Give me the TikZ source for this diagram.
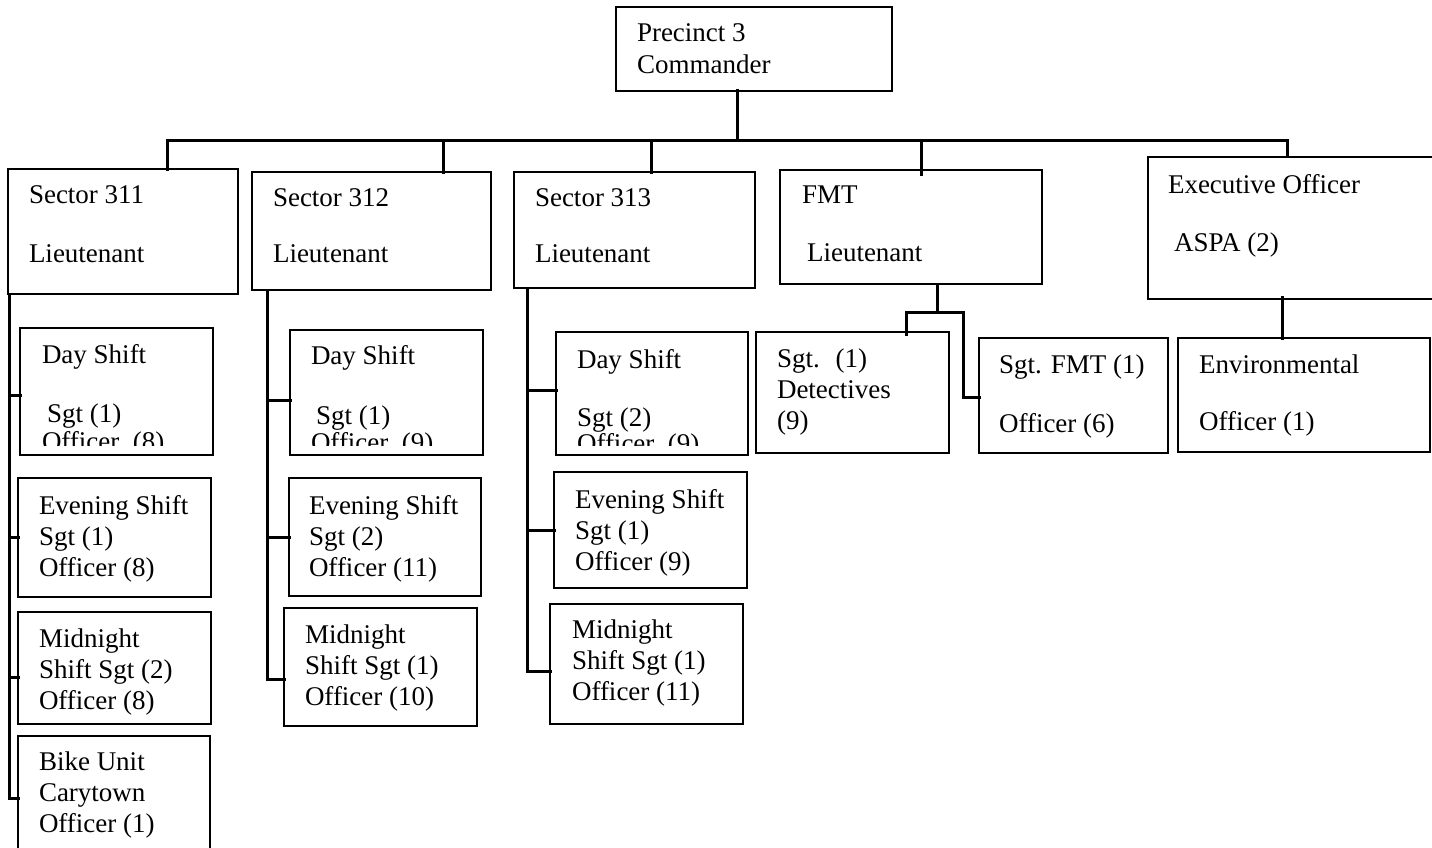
\documentclass[tikz,border=0pt]{standalone}
\usepackage{fontspec}
\setmainfont{Liberation Serif}
\begin{document}
\begin{tikzpicture}[x=1pt,y=-1pt,
  box/.style={draw,line width=1.3pt,inner sep=0pt,outer sep=0pt,anchor=north west},
  txt/.style={inner sep=0pt,outer sep=0pt,anchor=north west,align=left,
    font=\fontsize{27}{31}\selectfont,execute at begin node={\rule{0pt}{22pt}}},
  conn/.style={line width=3pt,line cap=rect,line join=miter}]
\useasboundingbox (0,0) rectangle (1432,848);
\clip (0,0) rectangle (1432,848);

% \unitbox{name}{x1}{y1}{x2}{y2}
\newcommand\unitbox[5]{\node[box,minimum width=#4pt-#2pt,minimum height=#5pt-#3pt] (#1) at (#2,#3) {};}
% \unittext{name}{x}{first baseline}{lines}
\newcommand\unittext[4]{\node[txt] (#1) at (#2,#3-18) {#4};}

% boxes
\unitbox{prec}{616}{7}{892}{91}
\unitbox{s311}{8}{169}{238}{294}
\unitbox{s312}{252}{172}{491}{290}
\unitbox{s313}{514}{172}{755}{288}
\unitbox{fmt}{780}{170}{1042}{284}
\unitbox{exec}{1148}{157}{1450}{299}
\unitbox{d311}{20}{328}{213}{455}
\unitbox{e311}{18}{478}{211}{597}
\unitbox{m311}{18}{612}{211}{724}
\unitbox{b311}{18}{736}{210}{860}
\unitbox{d312}{290}{330}{483}{455}
\unitbox{e312}{289}{478}{481}{596}
\unitbox{m312}{284}{608}{477}{726}
\unitbox{d313}{556}{332}{748}{455}
\unitbox{e313}{554}{472}{747}{588}
\unitbox{m313}{550}{604}{743}{724}
\unitbox{det}{756}{332}{949}{453}
\unitbox{sfmt}{979}{338}{1168}{453}
\unitbox{env}{1178}{338}{1430}{452}

% texts
\node[txt,font=\fontsize{27}{32}\selectfont] (prec-t) at (637,42-18) {Precinct 3\\Commander};
\unittext{s311-t}{29}{204}{Sector 311\\[28pt]Lieutenant}
\unittext{s312-t}{273}{207}{Sector 312\\[25pt]Lieutenant}
\unittext{s313-t}{535}{207}{Sector 313\\[25pt]Lieutenant}
\unittext{fmt-t}{802}{204}{FMT\\[27pt]\hspace{5pt}Lieutenant}
\unittext{exec-t}{1168}{192}{Executive Officer\\[27pt]\hspace{6pt}ASPA (2)}
\begin{scope}
  \clip (d311.north west) rectangle (d311.east |- 0,445);
  \unittext{d311-t}{42}{362}{Day Shift\\[28pt]\hspace{5pt}Sgt (1)\\[-3pt]Officer~ (8)}
\end{scope}
\begin{scope}
  \clip (d312.north west) rectangle (d312.east |- 0,445);
  \unittext{d312-t}{311}{363}{Day Shift\\[29pt]\hspace{5pt}Sgt (1)\\[-4pt]Officer~ (9)}
\end{scope}
\begin{scope}
  \clip (d313.north west) rectangle (d313.east |- 0,445);
  \unittext{d313-t}{577}{367}{Day Shift\\[27pt]Sgt (2)\\[-5pt]Officer~ (9)}
\end{scope}
\unittext{e311-t}{39}{513}{Evening Shift\\Sgt (1)\\Officer (8)}
\unittext{m311-t}{39}{647}{Midnight\\Shift Sgt (2)\\Officer (8)}
\unittext{b311-t}{39}{770}{Bike Unit\\Carytown\\Officer (1)}
\unittext{e312-t}{309}{513}{Evening Shift\\Sgt (2)\\Officer (11)}
\unittext{m312-t}{305}{643}{Midnight\\Shift Sgt (1)\\Officer (10)}
\unittext{e313-t}{575}{507}{Evening Shift\\Sgt (1)\\Officer (9)}
\unittext{m313-t}{572}{638}{Midnight\\Shift Sgt (1)\\Officer (11)}
\unittext{det-t}{777}{367}{Sgt.~ (1)\\Detectives\\(9)}
\unittext{sfmt-t}{999}{373}{Sgt. FMT (1)\\[28pt]Officer (6)}
\unittext{env-t}{1199}{373}{Environmental\\[26pt]Officer (1)}

% top level bar
\coordinate (j311) at (167,141);
\coordinate (j312) at (443,141);
\coordinate (j313) at (651,141);
\coordinate (jfmt) at (921,141);
\coordinate (jexec) at (1287,141);
\draw[conn] (prec.south -| 737,0) -- (737,141);
\draw[conn] (j311) -- (jexec);
\draw[conn] (j311) -- (j311 |- s311.north);
\draw[conn] (j312) -- (j312 |- s312.north);
\draw[conn] (j313) -- (j313 |- s313.north);
\draw[conn] (jfmt) -- (921,174);
\draw[conn] (jexec) -- (1287,154);

% sector 311
\coordinate (v311) at (9,294);
\draw[conn] (v311) |- (b311.west);
\draw[conn] (9,395) -- (d311.west |- 0,395);
\draw[conn] (9,537) -- (e311.west |- 0,537);
\draw[conn] (9,677) -- (m311.west |- 0,677);

% sector 312
\coordinate (v312) at (267,290);
\draw[conn] (v312) |- (m312.west |- 0,679);
\draw[conn] (267,400) -- (d312.west |- 0,400);
\draw[conn] (267,537) -- (e312.west |- 0,537);

% sector 313
\coordinate (v313) at (527,288);
\draw[conn] (v313) |- (m313.west |- 0,671);
\draw[conn] (527,390) -- (d313.west |- 0,390);
\draw[conn] (527,530) -- (e313.west |- 0,530);

% FMT
\coordinate (vfmt) at (937,284);
\coordinate (hfmt) at (937,312);
\draw[conn] (vfmt) -- (hfmt);
\draw[conn] (906,334) -- (906,312) -- (963,312) |- (sfmt.west |- 0,397);

% executive officer
\draw[conn] (1282,297) -- (1282,338);
\end{tikzpicture}
\end{document}
